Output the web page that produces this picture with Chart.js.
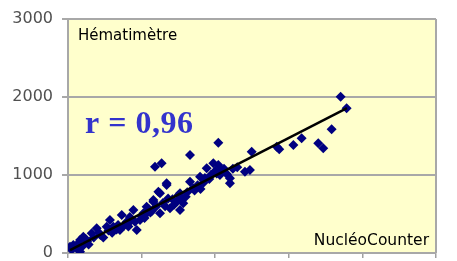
<!DOCTYPE html>
<html>
<head>
<meta charset="utf-8">
<script src="https://cdn.jsdelivr.net/npm/chart.js@4"></script>
<style>
  html, body { margin: 0; padding: 0; background: #fff; }
  #wrap { width: 457px; height: 261px; }
</style>
</head>
<body>
<div id="wrap"><canvas id="chart"></canvas></div>
<script>
// NucléoCounter values (x) vs Hématimètre values (y)
const xValues = [14, 36, 59, 82, 82, 104, 130, 161, 195, 220, 263, 285, 308, 340, 353, 365, 399, 420, 444, 467,
  489, 512, 535, 534, 560, 580, 580, 591, 614, 625, 625, 636, 660, 670, 670, 693, 710, 738, 761, 761,
  783, 800, 829, 829, 860, 897, 920, 942, 960, 987, 1000, 1021, 1021, 1032, 1060, 1100, 1100, 1150, 1202, 1236,
  1248, 1418, 1435, 1531, 1587, 1700, 1734, 1791, 1852, 1893,
  25, 50, 70, 95, 120, 140, 175, 210, 240, 275, 300, 330, 380, 410, 430, 455, 500, 520, 550, 570,
  600, 645, 680, 720, 750, 770, 810, 850, 880, 900, 930, 970, 1010, 1045, 1080, 1120];
const yValues = [81, 103, 60, 17, 167, 209, 150, 252, 316, 230, 337, 423, 337, 360, 295, 487, 401, 460, 551, 295,
  423, 509, 509, 594, 520, 680, 658, 1107, 786, 765, 509, 1150, 600, 872, 893, 573, 690, 658, 765, 551,
  637, 720, 914, 1256, 800, 978, 900, 1086, 950, 1150, 1050, 1128, 1414, 1000, 1080, 958, 893, 1100, 1042, 1064,
  1299, 1363, 1329, 1385, 1470, 1406, 1342, 1586, 2004, 1855,
  40, 90, 120, 80, 180, 110, 200, 260, 200, 290, 260, 300, 350, 340, 420, 400, 470, 450, 560, 540,
  600, 640, 700, 620, 740, 700, 780, 830, 870, 820, 960, 1000, 1020, 1060, 1010, 1080];

// trend line
const trendSlope = 0.968;
const trendIntercept = 24;
const trendFrom = 14;
const trendTo = 1895;

const yTicks = [0, 1000, 2000, 3000];
const xTicks = [0, 500, 1000, 1500, 2000, 2500];

const points = xValues.map((x, i) => ({ x: x, y: yValues[i] }));
const trend = [trendFrom, trendTo].map(x => ({ x: x, y: trendSlope * x + trendIntercept }));

const noPad = s => { s.paddingTop = 0; s.paddingBottom = 0; s.paddingLeft = 0; s.paddingRight = 0; };

const plotDeco = {
  id: 'plotDeco',
  beforeDraw(chart) {
    const { ctx, chartArea: a } = chart;
    ctx.save();
    ctx.fillStyle = '#FFFFCC';
    ctx.fillRect(a.left, a.top, a.right - a.left, a.bottom - a.top);
    ctx.restore();
  },
  beforeDatasetsDraw(chart) {
    const { ctx, chartArea: a } = chart;
    ctx.save();
    ctx.strokeStyle = '#A8A8A8';
    ctx.lineWidth = 2;
    ctx.beginPath();
    ctx.moveTo(a.right, a.top);
    ctx.lineTo(a.right, a.bottom);
    ctx.stroke();
    ctx.restore();
  },
  afterDraw(chart) {
    const { ctx, chartArea: a } = chart;
    ctx.save();
    ctx.fillStyle = '#000';
    ctx.font = '15px "DejaVu Sans"';
    ctx.textBaseline = 'alphabetic';
    ctx.textAlign = 'left';
    ctx.fillText('Hématimètre', a.left + 10, a.top + 21);
    ctx.textAlign = 'right';
    ctx.font = '15.5px "DejaVu Sans"';
    ctx.fillText('NucléoCounter', a.right - 7, a.bottom - 8);
    ctx.textAlign = 'left';
    ctx.fillStyle = '#3333CC';
    ctx.font = 'bold 32px "Liberation Serif"';
    ctx.letterSpacing = '0.5px';
    ctx.fillText('r = 0,96', a.left + 17, a.top + 114);
    ctx.restore();
  }
};

new Chart(document.getElementById('chart'), {
  type: 'scatter',
  data: {
    datasets: [{
      type: 'line',
      data: trend,
      borderColor: '#000000',
      borderWidth: 2.5,
      pointRadius: 0,
      fill: false,
      order: 0
    }, {
      data: points,
      backgroundColor: '#000080',
      borderColor: '#000080',
      borderWidth: 0,
      pointStyle: 'rectRot',
      pointRadius: 5,
      order: 1
    }]
  },
  options: {
    responsive: true,
    maintainAspectRatio: false,
    animation: false,
    layout: { padding: { top: 19, right: 21, left: 0, bottom: 0 } },
    plugins: { legend: { display: false }, tooltip: { enabled: false } },
    scales: {
      x: {
        type: 'linear',
        min: xTicks[0],
        max: xTicks[xTicks.length - 1],
        afterBuildTicks: s => { s.ticks = xTicks.map(v => ({ value: v })); },
        afterFit: s => { s.height = 8; noPad(s); },
        ticks: { display: false },
        grid: { drawOnChartArea: false, drawTicks: true, tickLength: 5, color: '#A0A0A0', lineWidth: 1.5 },
        border: { color: '#A8A8A8', width: 2 }
      },
      y: {
        min: yTicks[0],
        max: yTicks[yTicks.length - 1],
        afterBuildTicks: s => { s.ticks = yTicks.map(v => ({ value: v })); },
        afterFit: s => { s.width = 68; noPad(s); },
        ticks: {
          color: '#505050',
          font: { family: 'DejaVu Sans', size: 16 },
          padding: 9,
          callback: v => String(v)
        },
        grid: { color: '#A8A8A8', lineWidth: 2, tickLength: 6 },
        border: { color: '#A8A8A8', width: 2 }
      }
    }
  },
  plugins: [plotDeco]
});
</script>
</body>
</html>
